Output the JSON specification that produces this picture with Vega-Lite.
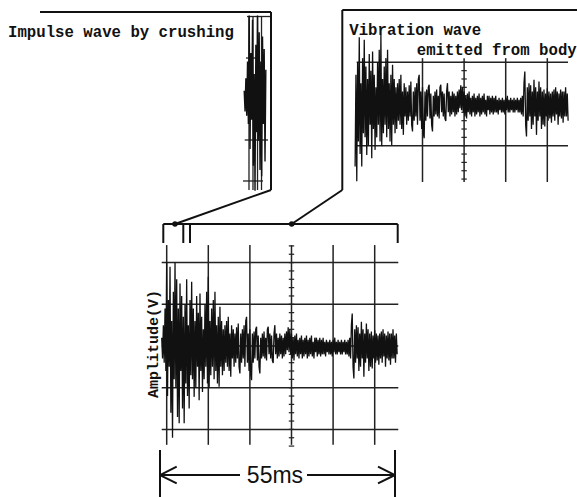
{
"$schema": "https://vega.github.io/schema/vega-lite/v6.json",
"width": 577, "height": 497, "padding": 0, "autosize": {"type": "none"},
"background": "white",
"config": {"view": {"stroke": null}},
"datasets": {
"trace": [
{"t":-1.2,"v":0.2},{"t":-1.0,"v":-0.3},{"t":-0.8,"v":0.5},{"t":-0.6,"v":-0.4},{"t":-0.4,"v":0.9},{"t":-0.2,"v":-0.6},
{"t":0,"v":2.0},{"t":0.2,"v":-1.2},{"t":0.4,"v":1.1},{"t":0.6,"v":-0.5},{"t":0.8,"v":1.9},
{"t":1.0,"v":-1.6},{"t":1.2,"v":0.6},{"t":1.4,"v":-2.2},{"t":1.6,"v":1.3},{"t":1.8,"v":-0.8},
{"t":2.0,"v":2.0},{"t":2.2,"v":-1.0},{"t":2.4,"v":1.6},{"t":2.6,"v":-1.7},{"t":2.8,"v":0.9},
{"t":3.0,"v":-1.85},{"t":3.2,"v":1.5},{"t":3.4,"v":-0.6},{"t":3.6,"v":1.2},{"t":3.8,"v":-1.5},
{"t":4.0,"v":0.7},{"t":4.2,"v":-1.85},{"t":4.4,"v":1.0},{"t":4.6,"v":-0.9},{"t":4.8,"v":1.6},
{"t":5.0,"v":-1.2},{"t":5.2,"v":0.5},{"t":5.4,"v":-1.5},{"t":5.6,"v":1.1},{"t":5.8,"v":-0.7},
{"t":6.0,"v":1.54},{"t":6.2,"v":-0.8},{"t":6.4,"v":0.9},{"t":6.6,"v":-1.22},{"t":6.8,"v":0.6},
{"t":7.0,"v":-1.0},{"t":7.2,"v":1.2},{"t":7.4,"v":-0.5},{"t":7.6,"v":0.8},{"t":7.8,"v":-1.3},
{"t":8.0,"v":1.26},{"t":8.2,"v":-0.6},{"t":8.4,"v":0.7},{"t":8.6,"v":-1.1},{"t":8.8,"v":0.4},
{"t":9.0,"v":-0.8},{"t":9.2,"v":1.0},{"t":9.4,"v":-0.5},{"t":9.6,"v":1.3},{"t":9.8,"v":-0.9},
{"t":10.0,"v":1.66},{"t":10.2,"v":-1.01},{"t":10.4,"v":0.6},{"t":10.6,"v":-0.7},{"t":10.8,"v":0.9},
{"t":11.0,"v":-0.5},{"t":11.2,"v":1.1},{"t":11.4,"v":-0.8},{"t":11.6,"v":1.3},{"t":11.8,"v":-0.6},
{"t":12.0,"v":0.5},{"t":12.2,"v":-0.9},{"t":12.4,"v":0.7},{"t":12.6,"v":-0.98},{"t":12.8,"v":0.94},
{"t":13.0,"v":-0.5},{"t":13.2,"v":0.6},{"t":13.4,"v":-0.7},{"t":13.6,"v":0.4},{"t":13.8,"v":-0.6},
{"t":14.0,"v":0.5},{"t":14.2,"v":-0.4},{"t":14.4,"v":0.6},{"t":14.6,"v":-0.5},{"t":14.8,"v":0.7},
{"t":15.0,"v":-0.6},{"t":15.2,"v":0.3},{"t":15.4,"v":-0.74},{"t":15.6,"v":0.5},{"t":15.8,"v":-0.3},
{"t":16.0,"v":0.4},{"t":16.2,"v":-0.5},{"t":16.4,"v":0.3},{"t":16.6,"v":-0.4},{"t":16.8,"v":0.45},
{"t":17.0,"v":-0.3},{"t":17.2,"v":0.54},{"t":17.4,"v":-0.5},{"t":17.6,"v":-0.66},{"t":17.8,"v":0.3},
{"t":18.0,"v":-0.4},{"t":18.2,"v":0.4},{"t":18.4,"v":-0.3},{"t":18.6,"v":0.5},{"t":18.8,"v":-0.5},
{"t":19.0,"v":0.6},{"t":19.2,"v":0.7},{"t":19.4,"v":-0.4},{"t":19.6,"v":0.3},{"t":19.8,"v":-0.6},
{"t":20.0,"v":0.4},{"t":20.2,"v":-0.7},{"t":20.4,"v":-0.82},{"t":20.6,"v":0.3},{"t":20.8,"v":-0.4},
{"t":21.0,"v":0.35},{"t":21.2,"v":-0.3},{"t":21.4,"v":0.4},{"t":21.6,"v":0.46},{"t":21.8,"v":-0.35},
{"t":22.0,"v":0.25},{"t":22.2,"v":-0.5},{"t":22.4,"v":-0.66},{"t":22.6,"v":0.2},{"t":22.8,"v":-0.3},
{"t":23.0,"v":0.3},{"t":23.2,"v":-0.25},{"t":23.4,"v":0.35},{"t":23.6,"v":-0.3},{"t":23.8,"v":0.2},
{"t":24.0,"v":-0.35},{"t":24.2,"v":0.4},{"t":24.4,"v":0.46},{"t":24.6,"v":-0.2},{"t":24.8,"v":0.3},
{"t":25.0,"v":-0.3},{"t":25.2,"v":0.25},{"t":25.4,"v":-0.35},{"t":25.6,"v":-0.41},{"t":25.8,"v":0.3},
{"t":26.0,"v":0.5},{"t":26.2,"v":-0.2},{"t":26.4,"v":0.3},{"t":26.6,"v":-0.3},{"t":26.8,"v":0.2},
{"t":27.0,"v":-0.25},{"t":27.2,"v":0.3},{"t":27.4,"v":-0.2},{"t":27.6,"v":0.25},{"t":27.8,"v":-0.3},
{"t":28.0,"v":0.2},{"t":28.2,"v":-0.25},{"t":28.4,"v":0.3},{"t":28.6,"v":-0.2},{"t":28.8,"v":0.35},
{"t":29.0,"v":-0.1},{"t":29.2,"v":0.45},{"t":29.4,"v":-0.15},{"t":29.6,"v":0.4},{"t":29.8,"v":-0.2},
{"t":30.0,"v":0.3},{"t":30.2,"v":-0.3},{"t":30.4,"v":0.2},{"t":30.6,"v":-0.35},{"t":30.8,"v":0.25},
{"t":31.0,"v":-0.2},{"t":31.2,"v":0.3},{"t":31.4,"v":-0.25},{"t":31.6,"v":0.15},{"t":31.8,"v":-0.3},
{"t":32.0,"v":0.2},{"t":32.2,"v":-0.2},{"t":32.4,"v":0.25},{"t":32.6,"v":-0.3},{"t":32.8,"v":0.15},
{"t":33.0,"v":-0.25},{"t":33.2,"v":0.2},{"t":33.4,"v":-0.2},{"t":33.6,"v":0.25},{"t":33.8,"v":-0.3},
{"t":34.0,"v":0.15},{"t":34.2,"v":-0.25},{"t":34.4,"v":0.2},{"t":34.6,"v":-0.2},{"t":34.8,"v":0.25},
{"t":35.0,"v":-0.25},{"t":35.2,"v":0.1},{"t":35.4,"v":-0.3},{"t":35.6,"v":0.2},{"t":35.8,"v":-0.15},
{"t":36.0,"v":0.2},{"t":36.2,"v":-0.25},{"t":36.4,"v":0.15},{"t":36.6,"v":-0.2},{"t":36.8,"v":0.2},
{"t":37.0,"v":-0.25},{"t":37.2,"v":0.15},{"t":37.4,"v":-0.2},{"t":37.6,"v":0.2},{"t":37.8,"v":-0.2},
{"t":38.0,"v":0.1},{"t":38.2,"v":-0.25},{"t":38.4,"v":0.15},{"t":38.6,"v":-0.15},{"t":38.8,"v":0.1},
{"t":39.0,"v":-0.2},{"t":39.2,"v":0.15},{"t":39.4,"v":-0.2},{"t":39.6,"v":0.1},{"t":39.8,"v":-0.25},
{"t":40.0,"v":0.15},{"t":40.2,"v":-0.15},{"t":40.4,"v":0.2},{"t":40.6,"v":-0.2},{"t":40.8,"v":0.1},
{"t":41.0,"v":-0.2},{"t":41.2,"v":0.15},{"t":41.4,"v":-0.15},{"t":41.6,"v":0.1},{"t":41.8,"v":-0.2},
{"t":42.0,"v":0.15},{"t":42.2,"v":-0.2},{"t":42.4,"v":0.1},{"t":42.6,"v":-0.15},{"t":42.8,"v":0.15},
{"t":43.0,"v":-0.2},{"t":43.2,"v":0.1},{"t":43.4,"v":-0.2},{"t":43.6,"v":0.15},{"t":43.8,"v":-0.25},
{"t":44.0,"v":0.2},{"t":44.2,"v":-0.3},{"t":44.4,"v":0.5},{"t":44.6,"v":0.78},{"t":44.8,"v":-0.5},
{"t":45.0,"v":-0.78},{"t":45.2,"v":0.4},{"t":45.4,"v":-0.4},{"t":45.6,"v":0.5},{"t":45.8,"v":-0.3},
{"t":46.0,"v":0.45},{"t":46.2,"v":-0.6},{"t":46.4,"v":0.3},{"t":46.6,"v":-0.5},{"t":46.8,"v":0.58},
{"t":47.0,"v":-0.3},{"t":47.2,"v":0.4},{"t":47.4,"v":-0.74},{"t":47.6,"v":0.3},{"t":47.8,"v":-0.4},
{"t":48.0,"v":0.54},{"t":48.2,"v":-0.3},{"t":48.4,"v":0.4},{"t":48.6,"v":-0.6},{"t":48.8,"v":0.3},
{"t":49.0,"v":-0.5},{"t":49.2,"v":0.35},{"t":49.4,"v":-0.54},{"t":49.6,"v":0.25},{"t":49.8,"v":-0.3},
{"t":50.0,"v":0.38},{"t":50.2,"v":-0.4},{"t":50.4,"v":0.3},{"t":50.6,"v":-0.35},{"t":50.8,"v":0.25},
{"t":51.0,"v":-0.45},{"t":51.2,"v":0.3},{"t":51.4,"v":-0.3},{"t":51.6,"v":0.35},{"t":51.8,"v":-0.4},
{"t":52.0,"v":0.4},{"t":52.2,"v":-0.25},{"t":52.4,"v":0.3},{"t":52.6,"v":-0.5},{"t":52.8,"v":0.25},
{"t":53.0,"v":-0.3},{"t":53.2,"v":0.35},{"t":53.4,"v":-0.35},{"t":53.6,"v":0.3},{"t":53.8,"v":-0.45},
{"t":54.0,"v":0.3},{"t":54.2,"v":-0.3},{"t":54.4,"v":0.4},{"t":54.6,"v":-0.3},{"t":54.8,"v":0.25},
{"t":55.0,"v":-0.4},{"t":55.2,"v":0.3},{"t":55.4,"v":-0.2}
],
"mainGrid": [
{"t":-1.2,"t2":55.67,"v":2,"v2":2},{"t":-1.2,"t2":55.67,"v":1,"v2":1},{"t":-1.2,"t2":55.67,"v":0,"v2":0},{"t":-1.2,"t2":55.67,"v":-1,"v2":-1},{"t":-1.2,"t2":55.67,"v":-2,"v2":-2},
{"t":0,"t2":0,"v":2.42,"v2":-2.37},{"t":10,"t2":10,"v":2.42,"v2":-2.37},{"t":20,"t2":20,"v":2.42,"v2":-2.37},{"t":30,"t2":30,"v":2.42,"v2":-2.37},{"t":40,"t2":40,"v":2.42,"v2":-2.37},{"t":50,"t2":50,"v":2.42,"v2":-2.37}
],
"ticks": [
{"t":29.35,"t2":30.65,"v":-2.4,"v2":-2.4},{"t":29.35,"t2":30.65,"v":-2.2,"v2":-2.2},{"t":29.35,"t2":30.65,"v":-2.0,"v2":-2.0},{"t":29.35,"t2":30.65,"v":-1.8,"v2":-1.8},{"t":29.35,"t2":30.65,"v":-1.6,"v2":-1.6},
{"t":29.35,"t2":30.65,"v":-1.4,"v2":-1.4},{"t":29.35,"t2":30.65,"v":-1.2,"v2":-1.2},{"t":29.35,"t2":30.65,"v":-1.0,"v2":-1.0},{"t":29.35,"t2":30.65,"v":-0.8,"v2":-0.8},{"t":29.35,"t2":30.65,"v":-0.6,"v2":-0.6},
{"t":29.35,"t2":30.65,"v":-0.4,"v2":-0.4},{"t":29.35,"t2":30.65,"v":-0.2,"v2":-0.2},{"t":29.35,"t2":30.65,"v":0,"v2":0},{"t":29.35,"t2":30.65,"v":0.2,"v2":0.2},{"t":29.35,"t2":30.65,"v":0.4,"v2":0.4},
{"t":29.35,"t2":30.65,"v":0.6,"v2":0.6},{"t":29.35,"t2":30.65,"v":0.8,"v2":0.8},{"t":29.35,"t2":30.65,"v":1.0,"v2":1.0},{"t":29.35,"t2":30.65,"v":1.2,"v2":1.2},{"t":29.35,"t2":30.65,"v":1.4,"v2":1.4},
{"t":29.35,"t2":30.65,"v":1.6,"v2":1.6},{"t":29.35,"t2":30.65,"v":1.8,"v2":1.8},{"t":29.35,"t2":30.65,"v":2.0,"v2":2.0},{"t":29.35,"t2":30.65,"v":2.2,"v2":2.2},{"t":29.35,"t2":30.65,"v":2.4,"v2":2.4}
],
"mainSeg": [
{"t":-0.817,"v":2.926,"t2":55.529,"v2":2.926},
{"t":-0.817,"v":2.926,"t2":-0.817,"v2":2.47},
{"t":55.529,"v":2.926,"t2":55.529,"v2":2.47},
{"t":3.99,"v":2.926,"t2":3.99,"v2":2.47},
{"t":5.6,"v":2.926,"t2":5.6,"v2":2.47},
{"t":1.995,"v":2.926,"t2":25.072,"v2":3.741},
{"t":25.072,"v":3.741,"t2":25.072,"v2":8.01},
{"t":25.072,"v":8.01,"t2":-30.457,"v2":8.01},
{"t":30.048,"v":2.926,"t2":42.212,"v2":3.741},
{"t":42.212,"v":3.741,"t2":42.212,"v2":8.058},
{"t":42.212,"v":8.058,"t2":98.7,"v2":8.058},
{"t":-1.611,"v":-2.494,"t2":-1.611,"v2":-3.7},
{"t":54.88,"v":-2.494,"t2":54.88,"v2":-3.7},
{"t":-1.611,"v":-3.094,"t2":17.62,"v2":-3.094},
{"t":33.726,"v":-3.094,"t2":54.88,"v2":-3.094},
{"t":-1.611,"v":-3.094,"t2":2.404,"v2":-2.894},
{"t":-1.611,"v":-3.094,"t2":2.404,"v2":-3.293},
{"t":54.88,"v":-3.094,"t2":50.793,"v2":-2.894},
{"t":54.88,"v":-3.094,"t2":50.793,"v2":-3.293}
],
"dots": [{"t":1.995,"v":2.926},{"t":30.048,"v":2.926}],
"rightGrid": [
{"t":4.18,"t2":54.98,"v":1,"v2":1},{"t":4.18,"t2":54.98,"v":-1,"v2":-1},
{"t":20,"t2":20,"v":1.1,"v2":-1.87},{"t":30,"t2":30,"v":1.1,"v2":-1.87},{"t":40,"t2":40,"v":1.1,"v2":-1.87},{"t":50,"t2":50,"v":1.1,"v2":-1.87}
],
"leftGrid": [
{"t":-0.53,"t2":5.0,"v":1.978,"v2":1.978},{"t":-0.77,"t2":1.64,"v":0.983,"v2":0.983},{"t":-1.08,"t2":4.52,"v":-0.983,"v2":-0.983},{"t":-1.49,"t2":3.32,"v":-1.966,"v2":-1.966},
{"t":-0.05,"t2":-0.05,"v":1.966,"v2":-2.182},{"t":0.91,"t2":0.91,"v":1.966,"v2":-2.182},{"t":2.0,"t2":2.0,"v":1.966,"v2":-2.182},{"t":2.96,"t2":2.96,"v":1.966,"v2":-2.182}
]
},
"layer": [
{
"encoding": {
"x": {"field": "t", "type": "quantitative", "scale": {"domain": [-40.072, 98.63], "nice": false, "zero": false}, "axis": null},
"y": {"field": "v", "type": "quantitative", "scale": {"domain": [-3.621, 8.297], "nice": false, "zero": false}, "axis": null}
},
"layer": [
{"data": {"name": "mainGrid"}, "mark": {"type": "rule", "color": "#222", "strokeWidth": 1.5}, "encoding": {"x2": {"field": "t2"}, "y2": {"field": "v2"}}},
{"data": {"name": "ticks"}, "mark": {"type": "rule", "color": "#222", "strokeWidth": 1.2}, "encoding": {"x2": {"field": "t2"}, "y2": {"field": "v2"}}},
{"data": {"name": "mainSeg"}, "mark": {"type": "rule", "color": "#111", "strokeWidth": 2}, "encoding": {"x2": {"field": "t2"}, "y2": {"field": "v2"}}},
{"data": {"name": "dots"}, "mark": {"type": "point", "filled": true, "color": "#111", "size": 30, "opacity": 1}},
{"data": {"name": "trace"}, "mark": {"type": "line", "color": "#111", "strokeWidth": 1.3}},
{"data": {"values": [{"t": -38.15, "v": 7.417, "label": "Impulse wave by crushing"}, {"t": 43.89, "v": 7.458, "label": "Vibration wave"}, {"t": 60.1, "v": 6.978, "label": "emitted from body"}]},
 "mark": {"type": "text", "font": "Liberation Mono", "fontWeight": "bold", "fontSize": 15.7, "align": "left", "baseline": "alphabetic", "color": "#111"},
 "encoding": {"text": {"field": "label"}}},
{"data": {"values": [{"t": -3.41, "v": 0.048, "label": "Amplitude(V)"}]},
 "mark": {"type": "text", "font": "Liberation Mono", "fontWeight": "bold", "fontSize": 15, "align": "center", "baseline": "middle", "angle": 270, "color": "#111"},
 "encoding": {"text": {"field": "label"}}},
{"data": {"values": [{"t": 26.03, "v": -3.285, "label": "55ms"}]},
 "mark": {"type": "text", "font": "Liberation Sans", "fontSize": 23, "align": "center", "baseline": "alphabetic", "color": "#111"},
 "encoding": {"text": {"field": "label"}}}
]
},
{
"encoding": {
"x": {"field": "t", "type": "quantitative", "scale": {"domain": [-81.563, 57.139], "nice": false, "zero": false}, "axis": null},
"y": {"field": "v", "type": "quantitative", "scale": {"domain": [-9.424, 2.494], "nice": false, "zero": false}, "axis": null}
},
"layer": [
{"data": {"name": "rightGrid"}, "mark": {"type": "rule", "color": "#222", "strokeWidth": 1.5}, "encoding": {"x2": {"field": "t2"}, "y2": {"field": "v2"}}},
{"data": {"name": "ticks"}, "transform": [{"filter": "datum.v >= -1.85 && datum.v <= 1.05"}], "mark": {"type": "rule", "color": "#222", "strokeWidth": 1.2}, "encoding": {"x2": {"field": "t2"}, "y2": {"field": "v2"}}},
{"data": {"name": "trace"}, "transform": [{"filter": "datum.t >= 3.8 && datum.t <= 55"}], "mark": {"type": "line", "color": "#111", "strokeWidth": 1.3}}
]
},
{
"encoding": {
"x": {"field": "t", "type": "quantitative", "scale": {"domain": [-59.904, 78.798], "nice": false, "zero": false}, "axis": null},
"y": {"field": "v", "type": "quantitative", "scale": {"domain": [-9.544, 2.374], "nice": false, "zero": false}, "axis": null}
},
"layer": [
{"data": {"name": "leftGrid"}, "mark": {"type": "rule", "color": "#222", "strokeWidth": 1.3}, "encoding": {"x2": {"field": "t2"}, "y2": {"field": "v2"}}},
{"data": {"name": "trace"}, "transform": [{"filter": "datum.t >= -1.2 && datum.t <= 4.0"}], "mark": {"type": "line", "color": "#111", "strokeWidth": 1.4}}
]
}
],
"resolve": {"scale": {"x": "independent", "y": "independent"}}
}
